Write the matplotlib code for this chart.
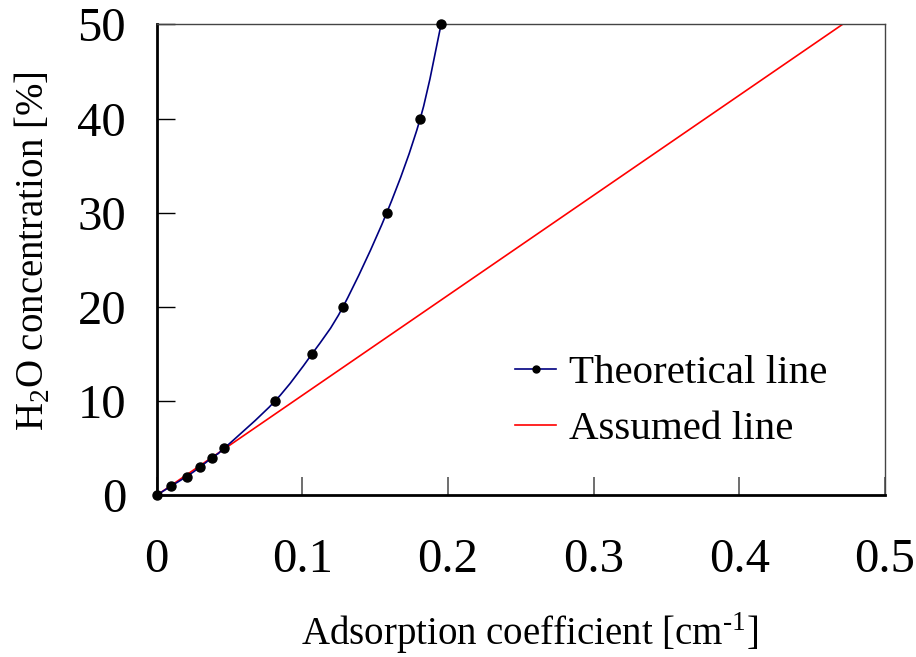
import matplotlib
matplotlib.use("Agg")
import matplotlib.pyplot as plt
from matplotlib.lines import Line2D
from matplotlib.path import Path
from matplotlib.patches import PathPatch

# --- data ---
theory_x = [0.0, 0.010, 0.0206, 0.0297, 0.038, 0.0464, 0.0812, 0.1066, 0.1279, 0.158, 0.181, 0.1953]
theory_y = [0, 1, 2, 3, 4, 5, 10, 15, 20, 30, 40, 50]
assumed_x = [0.0, 0.471]
assumed_y = [0, 50]
x_ticks = [0, 0.1, 0.2, 0.3, 0.4, 0.5]
x_tick_labels = ["0", "0.1", "0.2", "0.3", "0.4", "0.5"]
y_ticks = [0, 10, 20, 30, 40, 50]

NAVY = '#000080'

plt.rcParams['font.family'] = ['Liberation Serif', 'DejaVu Serif']
plt.rcParams['mathtext.fontset'] = 'custom'
plt.rcParams['mathtext.rm'] = 'Liberation Serif'


def smooth_path(xs, ys, k=1/6):
    # Excel-style smoothed line: cubic Bezier through the points (Catmull-Rom)
    verts = [(xs[0], ys[0])]
    codes = [Path.MOVETO]
    n = len(xs)
    for i in range(n - 1):
        x0, y0 = (xs[i - 1], ys[i - 1]) if i > 0 else (xs[i], ys[i])
        x1, y1 = xs[i], ys[i]
        x2, y2 = xs[i + 1], ys[i + 1]
        x3, y3 = (xs[i + 2], ys[i + 2]) if i + 2 < n else (x2, y2)
        verts += [(x1 + (x2 - x0) * k, y1 + (y2 - y0) * k),
                  (x2 - (x3 - x1) * k, y2 - (y3 - y1) * k),
                  (x2, y2)]
        codes += [Path.CURVE4] * 3
    return Path(verts, codes)


fig = plt.figure(figsize=(9.16, 6.57), dpi=100)
ax = fig.add_axes([0.171, 0.246, 0.795, 0.717])

ax.add_patch(PathPatch(smooth_path(theory_x, theory_y), facecolor='none',
                       edgecolor=NAVY, linewidth=1.2, zorder=3))
ax.plot(theory_x, theory_y, linestyle='none', marker='o', markersize=6.5,
        markerfacecolor='black', markeredgecolor='black', clip_on=False, zorder=4)
ax.plot(assumed_x, assumed_y, color='red', linewidth=1.2, zorder=2)

ax.set_xlim(0, 0.5)
ax.set_ylim(0, 50)
ax.set_xticks(x_ticks)
ax.set_xticklabels(x_tick_labels)
ax.set_yticks(y_ticks)

ax.tick_params(axis='both', direction='in', length=13, labelsize=35)
ax.tick_params(axis='x', color='#555555', width=1.2, pad=31)
ax.tick_params(axis='y', color='black', width=1.0, pad=22)

for side in ['left', 'bottom']:
    ax.spines[side].set_linewidth(2.0)
    ax.spines[side].set_color('black')
for side in ['top', 'right']:
    ax.spines[side].set_linewidth(1.0)
    ax.spines[side].set_color('#444444')

ax.set_xlabel('Adsorption coefficient [cm$^{\\text{-1}}$]', fontsize=28, labelpad=20)
ax.set_ylabel('H$_{\\mathrm{2}}$O concentration [%]', fontsize=28, labelpad=18)
ax.xaxis.label.set_x(0.512)
ax.yaxis.label.set_y(0.519)

handles = [Line2D([], [], color=NAVY, linewidth=1.2, marker='o', markersize=5,
                  markerfacecolor='black', markeredgecolor='black'),
           Line2D([], [], color='red', linewidth=1.2)]
ax.legend(handles, ['Theoretical line', 'Assumed line'], loc='lower left',
          bbox_to_anchor=(0.442, 0.022), frameon=False, fontsize=29.5,
          handlelength=1.0, handletextpad=0.3, labelspacing=0.45)

fig.savefig('out.png', dpi=100)
